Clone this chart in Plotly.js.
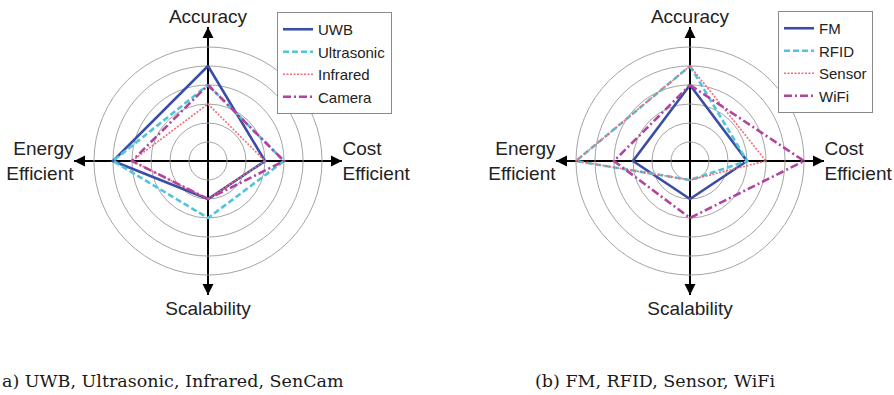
<!DOCTYPE html>
<html>
<head>
<meta charset="utf-8">
<script src="https://cdn.plot.ly/plotly-3.0.1.min.js"></script>
<style>html,body{margin:0;padding:0;background:#fff;}#chart{width:894px;height:395px;}</style>
</head>
<body>
<div id="chart"></div>
<script>
// Axis categories (clockwise from top)
const categories = ['Accuracy', 'Cost<br>Efficient', 'Scalability', 'Energy<br>Efficient'];
const ringValues = [1, 2, 3, 4, 5, 6];

// Panel (a)
const namesA = ['UWB', 'Ultrasonic', 'Infrared', 'Camera'];
const uwb        = [5, 3, 2, 5];
const ultrasonic = [4, 4, 3, 5];
const infrared   = [3, 3, 2, 4];
const camera     = [4, 4, 2, 4];

// Panel (b)
const namesB = ['FM', 'RFID', 'Sensor', 'WiFi'];
const fm     = [4, 3, 2, 3];
const rfid   = [5, 3, 1, 6];
const sensor = [5, 4, 1, 6];
const wifi   = [4, 6, 3, 4];

const captionA = 'a) UWB, Ultrasonic, Infrared, SenCam';
const captionB = '(b) FM, RFID, Sensor, WiFi';

const RMAX = 7.05;
const styles = [
  {color: '#3a4ea6', dash: 'solid', width: 2.6},
  {color: '#4fc5d9', dash: '6px,3px', width: 2.6},
  {color: '#f06a78', dash: '2px,1.5px', width: 1.6},
  {color: '#b0449e', dash: '8px,3px,2px,3px', width: 2.6}
];

function closed(a) { return a.concat([a[0]]); }

const traces = [];
function addPanel(series, names, subplot, legend) {
  series.forEach((vals, i) => {
    traces.push({
      type: 'scatterpolar', mode: 'lines', subplot: subplot, legend: legend,
      name: names[i], r: closed(vals), theta: closed(categories),
      line: {color: styles[i].color, dash: styles[i].dash, width: styles[i].width}
    });
  });
  // arrowheads at the end of each axis
  traces.push({
    type: 'scatterpolar', mode: 'markers', subplot: subplot, showlegend: false, hoverinfo: 'skip',
    r: categories.map(() => RMAX), theta: categories,
    marker: {symbol: ['arrow-up', 'arrow-right', 'arrow-down', 'arrow-left'], size: 11, color: '#000'},
    cliponaxis: false
  });
}
addPanel([uwb, ultrasonic, infrared, camera], namesA, 'polar', 'legend');
addPanel([fm, rfid, sensor, wifi], namesB, 'polar2', 'legend2');

const W = 894, H = 395, R = 134;
function polarLayout(cx, cy) {
  return {
    domain: {x: [(cx - R) / W, (cx + R) / W], y: [(H - cy - R) / H, (H - cy + R) / H]},
    bgcolor: 'rgba(0,0,0,0)',
    radialaxis: {range: [0, RMAX], tickvals: ringValues, showticklabels: false, ticks: '',
                 showline: false, gridcolor: '#9a9a9a', gridwidth: 0.9},
    angularaxis: {type: 'category', categoryarray: categories, rotation: 90, direction: 'clockwise',
                  showline: false, ticks: '', showgrid: true, gridcolor: '#000', gridwidth: 2,
                  tickfont: {family: 'Liberation Sans, Arial, sans-serif', size: 19, color: '#222'}}
  };
}

const legendStyle = (x, y) => ({
  x: x, y: y, xanchor: 'left', yanchor: 'top', xref: 'paper', yref: 'paper',
  bgcolor: '#fff', bordercolor: '#8a8a8a', borderwidth: 1,
  font: {family: 'Liberation Sans, Arial, sans-serif', size: 15, color: '#222'}
});

const layout = {
  width: W, height: H, margin: {l: 0, r: 0, t: 0, b: 0},
  paper_bgcolor: '#fff', showlegend: true,
  polar: polarLayout(208, 161),
  polar2: polarLayout(690, 161),
  legend: legendStyle(277 / W, 1 - 12 / H),
  legend2: legendStyle(778 / W, 1 - 11 / H),
  annotations: [
    {text: captionA, x: 0, y: 1 - 381 / H, xref: 'paper', yref: 'paper', xanchor: 'left', yanchor: 'middle',
     showarrow: false, font: {family: 'DejaVu Serif, serif', size: 17.5, color: '#1a1a1a'}},
    {text: captionB, x: 533 / W, y: 1 - 381 / H, xref: 'paper', yref: 'paper', xanchor: 'left', yanchor: 'middle',
     showarrow: false, font: {family: 'DejaVu Serif, serif', size: 17.5, color: '#1a1a1a'}}
  ]
};

Plotly.newPlot('chart', traces, layout, {displayModeBar: false, staticPlot: true});
</script>
</body>
</html>
